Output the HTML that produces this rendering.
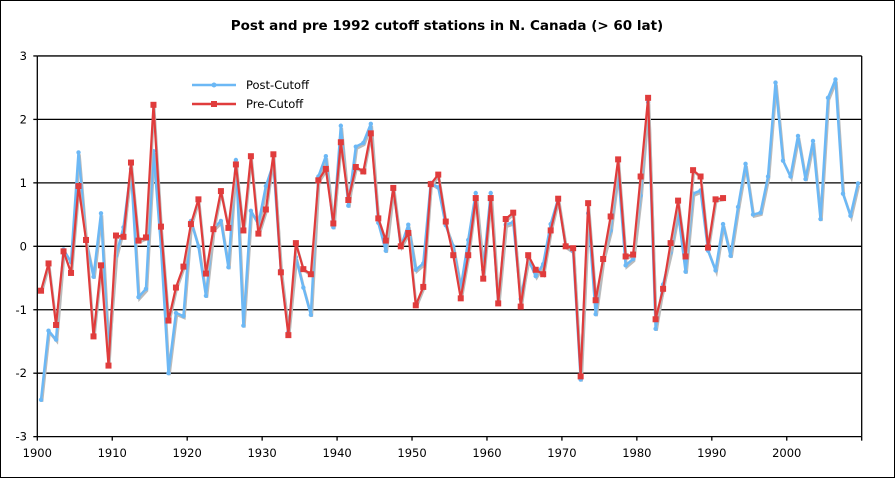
<!DOCTYPE html>
<html><head><meta charset="utf-8"><style>
body{margin:0;background:#fff}
svg text{font-family:"DejaVu Sans","Liberation Sans",sans-serif;font-size:11.5px;fill:#000}
</style></head><body>
<svg id="s" width="895" height="478" xmlns="http://www.w3.org/2000/svg">
<rect x="0.5" y="0.5" width="894" height="477" fill="#fff" stroke="#000"/>
<text x="447" y="30" text-anchor="middle" style="font-weight:bold;font-size:13.5px">Post and pre 1992 cutoff stations in N. Canada (&gt; 60 lat)</text>
<g id="grid" stroke="#000" stroke-width="1.3"></g>
<g id="lab"></g>
<g id="ser"></g>
<line x1="192" y1="85" x2="236" y2="85" stroke="#6cb8f5" stroke-width="2.5"/>
<circle cx="214" cy="85" r="2.5" fill="#6cb8f5"/>
<text x="246" y="89">Post-Cutoff</text>
<line x1="192" y1="104" x2="236" y2="104" stroke="#e03c3c" stroke-width="2.5"/>
<rect x="211" y="101" width="6" height="6" fill="#e03c3c"/>
<text x="246" y="108">Pre-Cutoff</text>
</svg>
<script>
var B=[-2.42,-1.33,-1.47,-0.05,-0.25,1.48,0.08,-0.48,0.52,-1.65,-0.15,0.3,1.22,-0.8,-0.67,1.5,0,-2,-1.05,-1.1,0.4,0,-0.78,0.28,0.4,-0.33,1.36,-1.25,0.56,0.35,0.95,1.3,-0.37,-1.35,-0.17,-0.65,-1.08,1.1,1.42,0.3,1.9,0.64,1.57,1.63,1.93,0.37,-0.07,0.93,-0.01,0.34,-0.37,-0.27,1,0.93,0.33,0,-0.66,0.1,0.84,-0.37,0.84,-0.9,0.34,0.38,-0.83,-0.2,-0.47,-0.28,0.35,0.75,0,-0.08,-2.1,0.52,-1.07,-0.2,0.25,1.2,-0.3,-0.2,0.8,2.27,-1.3,-0.6,-0.1,0.54,-0.4,0.83,0.88,-0.07,-0.38,0.35,-0.15,0.62,1.3,0.5,0.53,1.1,2.58,1.35,1.1,1.74,1.06,1.66,0.43,2.34,2.63,0.83,0.48,0.99];
var R=[-0.7,-0.27,-1.24,-0.08,-0.42,0.95,0.1,-1.42,-0.3,-1.88,0.17,0.15,1.32,0.09,0.14,2.23,0.31,-1.17,-0.65,-0.32,0.35,0.74,-0.43,0.27,0.87,0.29,1.29,0.25,1.42,0.2,0.58,1.45,-0.41,-1.4,0.05,-0.36,-0.44,1.04,1.22,0.36,1.64,0.73,1.25,1.18,1.78,0.44,0.09,0.92,0,0.21,-0.93,-0.64,0.98,1.13,0.39,-0.14,-0.82,-0.14,0.76,-0.51,0.76,-0.9,0.43,0.53,-0.95,-0.14,-0.37,-0.44,0.25,0.75,0,-0.03,-2.05,0.68,-0.85,-0.2,0.47,1.37,-0.16,-0.13,1.1,2.34,-1.15,-0.67,0.05,0.72,-0.16,1.2,1.1,-0.02,0.74,0.76];
var L=37.3,W=824.4/110,Y0=246.3,U=63.45;
function X(i){return L+(i+0.5)*W}function Yv(v){return Y0-v*U}
var ns="http://www.w3.org/2000/svg",g=document.getElementById('grid'),lb=document.getElementById('lab'),se=document.getElementById('ser');
function el(p,t,a,txt){var e=document.createElementNS(ns,t);for(var k in a)e.setAttribute(k,a[k]);if(txt!=null)e.textContent=txt;p.appendChild(e);return e}
for(var v=-3;v<=3;v++){el(g,'line',{x1:L,x2:861.7,y1:Yv(v),y2:Yv(v)});el(g,'line',{x1:L-4,x2:L,y1:Yv(v),y2:Yv(v)});el(lb,'text',{x:27,y:Yv(v)+4,'text-anchor':'end'},v)}
el(g,'line',{x1:L,x2:L,y1:Yv(3),y2:Yv(-3)});el(g,'line',{x1:861.7,x2:861.7,y1:Yv(3),y2:Yv(-3)});
for(var d=0;d<=11;d++){var x=L+d*10*W;el(g,'line',{x1:x,x2:x,y1:Yv(-3),y2:Yv(-3)+4});if(d<11)el(lb,'text',{x:x,y:457,'text-anchor':'middle'},1900+d*10)}
function pts(a,dx,dy){return a.map(function(v,i){return (X(i)+dx)+','+(Yv(v)+dy)}).join(' ')}
el(se,'polyline',{points:pts(B,1,2),fill:'none',stroke:'#bbb','stroke-width':2.5});
el(se,'polyline',{points:pts(B,0,0),fill:'none',stroke:'#6cb8f5','stroke-width':2.5,'stroke-linejoin':'round'});
B.forEach(function(v,i){el(se,'circle',{cx:X(i),cy:Yv(v),r:2.2,fill:'#6cb8f5'})});
el(se,'polyline',{points:pts(R,1,2),fill:'none',stroke:'#bbb','stroke-width':2});
el(se,'polyline',{points:pts(R,0,0),fill:'none',stroke:'#e03c3c','stroke-width':2.2,'stroke-linejoin':'round'});
R.forEach(function(v,i){el(se,'rect',{x:X(i)-3,y:Yv(v)-3,width:6,height:6,fill:'#e03c3c'})});
</script>
</body></html>
